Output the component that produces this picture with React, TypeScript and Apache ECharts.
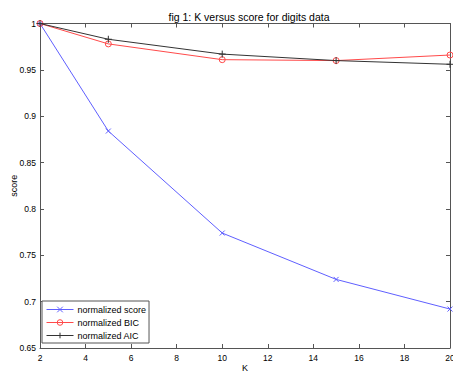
import React, { useEffect, useRef } from "react";
import * as echarts from "echarts";

const kValues = [2, 5, 10, 15, 20];
const scoreValues = [1, 0.884, 0.774, 0.724, 0.692];
const bicValues = [1, 0.978, 0.961, 0.96, 0.966];
const aicValues = [1, 0.983, 0.967, 0.96, 0.956];

const FONT = "Liberation Sans";
const crossSym = "path://M0,0L10,10M10,0L0,10";
const plusSym = "path://M5,0L5,10M0,5L10,5";
const ringSym = "path://M5,0A5,5,0,1,1,5,10A5,5,0,1,1,5,0Z";

export default function App() {
  const ref = useRef<HTMLDivElement>(null);
  useEffect(() => {
    const chart = echarts.init(ref.current!, null, { renderer: "svg" });
    const pairs = (ys: number[]) => kValues.map((k, i) => [k, ys[i]]);
    const axisLine = { show: true, lineStyle: { color: "#555", width: 1 } };
    const tick = { show: true, inside: true, length: 4, lineStyle: { color: "#555" } };
    chart.setOption({
      animation: false,
      backgroundColor: "#fff",
      textStyle: { fontFamily: FONT },
      title: {
        text: "fig 1: K versus score for digits data",
        left: 244,
        top: 6,
        textAlign: "center",
        textStyle: { fontSize: 10.5, fontWeight: "normal", color: "#000", fontFamily: FONT },
      },
      grid: { left: 40, right: 3, top: 23.5, bottom: 23, containLabel: false, outerBoundsMode: "none" },
      xAxis: [
        {
          type: "value", min: 2, max: 20, interval: 2, position: "bottom",
          name: "K", nameLocation: "middle", nameGap: 15, nameMoveOverlap: false,
          nameTextStyle: { fontSize: 9, color: "#000", fontFamily: FONT },
          axisLine, axisTick: tick, splitLine: { show: false },
          axisLabel: { fontSize: 8.5, color: "#000", margin: 5, fontFamily: FONT, hideOverlap: false },
        },
        {
          type: "value", min: 2, max: 20, interval: 2, position: "top",
          axisLine, axisTick: tick, splitLine: { show: false }, axisLabel: { show: false },
        },
      ],
      yAxis: [
        {
          type: "value", min: 0.65, max: 1, interval: 0.05, position: "left",
          name: "score", nameLocation: "middle", nameGap: 22, nameMoveOverlap: false,
          nameTextStyle: { fontSize: 9, color: "#000", fontFamily: FONT },
          axisLine, axisTick: tick, splitLine: { show: false },
          axisLabel: {
            fontSize: 8.5, color: "#000", margin: 4, fontFamily: FONT,
            formatter: (v: number) => String(+v.toFixed(2)),
          },
        },
        {
          type: "value", min: 0.65, max: 1, interval: 0.05, position: "right",
          axisLine, axisTick: tick, splitLine: { show: false }, axisLabel: { show: false },
        },
      ],
      legend: {
        orient: "vertical",
        left: 42,
        top: 301,
        padding: [3, 3, 2, 4],
        itemGap: 2,
        itemWidth: 27,
        itemHeight: 7,
        borderColor: "#555",
        borderWidth: 1,
        backgroundColor: "#fff",
        lineStyle: { width: 1 },
        itemStyle: { borderWidth: 1 },
        textStyle: { fontSize: 9, color: "#000", fontFamily: FONT, lineHeight: 11, padding: [0, 0, 0, -1] },
        data: ["normalized score", "normalized BIC", "normalized AIC"],
      },
      series: [
        {
          name: "normalized score", type: "line", data: pairs(scoreValues),
          symbol: crossSym, symbolSize: 5, showAllSymbol: true,
          lineStyle: { color: "#5f5fff", width: 1 },
          itemStyle: { color: "#5f5fff", borderColor: "#5f5fff", borderWidth: 1 },
          z: 2,
        },
        {
          name: "normalized BIC", type: "line", data: pairs(bicValues),
          symbol: ringSym, symbolSize: 6,
          lineStyle: { color: "#ff4a4a", width: 1 },
          itemStyle: { color: "rgba(255,255,255,0)", borderColor: "#ff4a4a", borderWidth: 1 },
          z: 3,
        },
        {
          name: "normalized AIC", type: "line", data: pairs(aicValues),
          symbol: plusSym, symbolSize: 7,
          lineStyle: { color: "#333", width: 1 },
          itemStyle: { color: "#333", borderColor: "#333", borderWidth: 1 },
          z: 4,
        },
      ],
    });
    return () => chart.dispose();
  }, []);
  return <div ref={ref} style={{ width: 453, height: 371, position: "absolute", left: 0, top: 0 }} />;
}
